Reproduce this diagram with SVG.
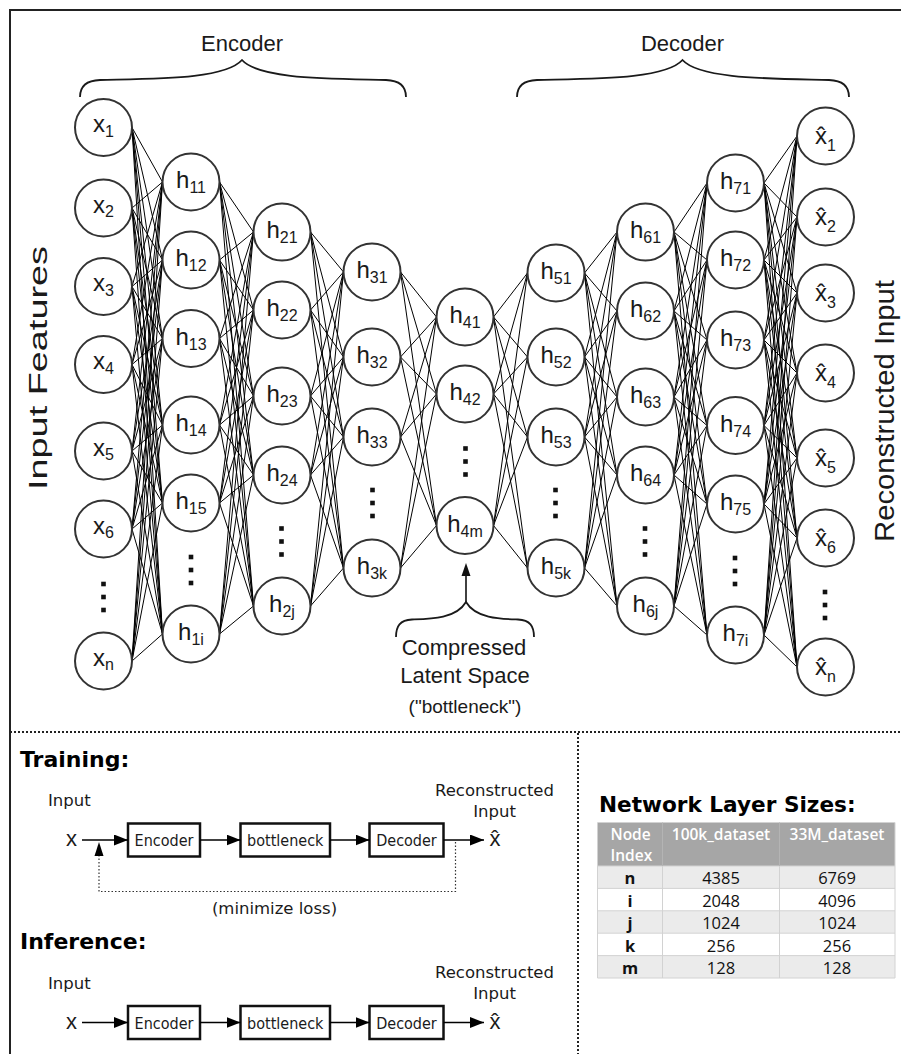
<svg xmlns="http://www.w3.org/2000/svg" width="901" height="1054" viewBox="0 0 901 1054">
<style>
.node circle{fill:#fff;stroke:#333;stroke-width:2}
.lbl{font-family:"Liberation Sans",Arial,sans-serif;font-size:24px;text-anchor:middle;fill:#1a1a1a}
.sub{font-size:16px}
.conn{stroke:#000;stroke-width:1;fill:none}
.brace{fill:none;stroke:#1a1a1a;stroke-width:1.8}
.ls{font-family:"Liberation Sans",Arial,sans-serif;fill:#1a1a1a}
.dv{font-family:"DejaVu Sans",Verdana,sans-serif;font-size:16.5px;fill:#1a1a1a}
.bold{font-family:"DejaVu Sans",Verdana,sans-serif;font-weight:bold;fill:#000}
.mid{text-anchor:middle}
.box rect{fill:#fff;stroke:#111;stroke-width:2.5}
.box text{font-family:"DejaVu Sans Condensed","DejaVu Sans",sans-serif;font-stretch:condensed;font-size:16px;text-anchor:middle;fill:#1a1a1a}
.arr{stroke:#000;stroke-width:1.5;fill:none}
.sep{stroke:#222;stroke-width:2;stroke-dasharray:2 2;fill:none}
.fb{stroke:#333;stroke-width:1.2;stroke-dasharray:1.5 2;fill:none}
.tb{font-family:"Open Sans","Noto Sans",sans-serif;font-size:16.5px;fill:#111}
.th{font-family:"Open Sans","Noto Sans",sans-serif;font-size:15.5px;font-weight:600;fill:#fff}
.grid{stroke:#d2d2d2;stroke-width:1;fill:none}
</style>
<defs>
<g id="vdots" fill="#111"><rect x="-2.3" y="-15.3" width="4.6" height="4.6"/><rect x="-2.3" y="-2.3" width="4.6" height="4.6"/><rect x="-2.3" y="10.7" width="4.6" height="4.6"/></g>
<marker id="ah" viewBox="0 0 14 11" refX="14" refY="5.5" markerWidth="14" markerHeight="11" markerUnits="userSpaceOnUse" orient="auto"><path d="M0,0 L14,5.5 L0,11 z" fill="#000"/></marker>
</defs>
<rect x="0" y="0" width="901" height="1054" fill="#fff"/>
<rect x="10" y="10" width="900" height="1060" fill="none" stroke="#222" stroke-width="2"/>

<g id="connectors">
<path class="conn" d="M132 127.5L162.5 182M132 127.5L162.5 260M132 127.5L162.5 338.5M132 127.5L162.5 425M132 127.5L162.5 503M132 127.5L162.5 634M132 208L162.5 182M132 208L162.5 260M132 208L162.5 338.5M132 208L162.5 425M132 208L162.5 503M132 208L162.5 634M132 286.5L162.5 182M132 286.5L162.5 260M132 286.5L162.5 338.5M132 286.5L162.5 425M132 286.5L162.5 503M132 286.5L162.5 634M132 364.5L162.5 182M132 364.5L162.5 260M132 364.5L162.5 338.5M132 364.5L162.5 425M132 364.5L162.5 503M132 364.5L162.5 634M132 451L162.5 182M132 451L162.5 260M132 451L162.5 338.5M132 451L162.5 425M132 451L162.5 503M132 451L162.5 634M132 529L162.5 182M132 529L162.5 260M132 529L162.5 338.5M132 529L162.5 425M132 529L162.5 503M132 529L162.5 634M132 661L162.5 182M132 661L162.5 260M132 661L162.5 338.5M132 661L162.5 425M132 661L162.5 503M132 661L162.5 634"/>
<path class="conn" d="M219.5 182L253.5 232M219.5 182L253.5 310M219.5 182L253.5 396M219.5 182L253.5 475M219.5 182L253.5 606M219.5 260L253.5 232M219.5 260L253.5 310M219.5 260L253.5 396M219.5 260L253.5 475M219.5 260L253.5 606M219.5 338.5L253.5 232M219.5 338.5L253.5 310M219.5 338.5L253.5 396M219.5 338.5L253.5 475M219.5 338.5L253.5 606M219.5 425L253.5 232M219.5 425L253.5 310M219.5 425L253.5 396M219.5 425L253.5 475M219.5 425L253.5 606M219.5 503L253.5 232M219.5 503L253.5 310M219.5 503L253.5 396M219.5 503L253.5 475M219.5 503L253.5 606M219.5 634L253.5 232M219.5 634L253.5 310M219.5 634L253.5 396M219.5 634L253.5 475M219.5 634L253.5 606"/>
<path class="conn" d="M310.5 232L343.5 272M310.5 232L343.5 357M310.5 232L343.5 437M310.5 232L343.5 568M310.5 310L343.5 272M310.5 310L343.5 357M310.5 310L343.5 437M310.5 310L343.5 568M310.5 396L343.5 272M310.5 396L343.5 357M310.5 396L343.5 437M310.5 396L343.5 568M310.5 475L343.5 272M310.5 475L343.5 357M310.5 475L343.5 437M310.5 475L343.5 568M310.5 606L343.5 272M310.5 606L343.5 357M310.5 606L343.5 437M310.5 606L343.5 568"/>
<path class="conn" d="M400.5 272L436.5 317M400.5 272L436.5 394M400.5 272L436.5 525.5M400.5 357L436.5 317M400.5 357L436.5 394M400.5 357L436.5 525.5M400.5 437L436.5 317M400.5 437L436.5 394M400.5 437L436.5 525.5M400.5 568L436.5 317M400.5 568L436.5 394M400.5 568L436.5 525.5"/>
<path class="conn" d="M493.5 317L527.5 273M493.5 317L527.5 357M493.5 317L527.5 437M493.5 317L527.5 568M493.5 394L527.5 273M493.5 394L527.5 357M493.5 394L527.5 437M493.5 394L527.5 568M493.5 525.5L527.5 273M493.5 525.5L527.5 357M493.5 525.5L527.5 437M493.5 525.5L527.5 568"/>
<path class="conn" d="M584.5 273L617 232M584.5 273L617 311M584.5 273L617 397M584.5 273L617 475M584.5 273L617 606M584.5 357L617 232M584.5 357L617 311M584.5 357L617 397M584.5 357L617 475M584.5 357L617 606M584.5 437L617 232M584.5 437L617 311M584.5 437L617 397M584.5 437L617 475M584.5 437L617 606M584.5 568L617 232M584.5 568L617 311M584.5 568L617 397M584.5 568L617 475M584.5 568L617 606"/>
<path class="conn" d="M674 232L707 183M674 232L707 260M674 232L707 340M674 232L707 425.5M674 232L707 504M674 232L707 635M674 311L707 183M674 311L707 260M674 311L707 340M674 311L707 425.5M674 311L707 504M674 311L707 635M674 397L707 183M674 397L707 260M674 397L707 340M674 397L707 425.5M674 397L707 504M674 397L707 635M674 475L707 183M674 475L707 260M674 475L707 340M674 475L707 425.5M674 475L707 504M674 475L707 635M674 606L707 183M674 606L707 260M674 606L707 340M674 606L707 425.5M674 606L707 504M674 606L707 635"/>
<path class="conn" d="M764 183L797 136M764 183L797 217M764 183L797 293M764 183L797 373M764 183L797 458M764 183L797 538M764 183L797 667M764 260L797 136M764 260L797 217M764 260L797 293M764 260L797 373M764 260L797 458M764 260L797 538M764 260L797 667M764 340L797 136M764 340L797 217M764 340L797 293M764 340L797 373M764 340L797 458M764 340L797 538M764 340L797 667M764 425.5L797 136M764 425.5L797 217M764 425.5L797 293M764 425.5L797 373M764 425.5L797 458M764 425.5L797 538M764 425.5L797 667M764 504L797 136M764 504L797 217M764 504L797 293M764 504L797 373M764 504L797 458M764 504L797 538M764 504L797 667M764 635L797 136M764 635L797 217M764 635L797 293M764 635L797 373M764 635L797 458M764 635L797 538M764 635L797 667"/>
</g>

<g id="layer-x">
<g id="x1" class="node"><circle cx="103.5" cy="127.5" r="28.5"/><text class="lbl" x="103.5" y="132">x<tspan class="sub" dy="4.5">1</tspan></text></g>
<g id="x2" class="node"><circle cx="103.5" cy="208" r="28.5"/><text class="lbl" x="103.5" y="212.5">x<tspan class="sub" dy="4.5">2</tspan></text></g>
<g id="x3" class="node"><circle cx="103.5" cy="286.5" r="28.5"/><text class="lbl" x="103.5" y="291">x<tspan class="sub" dy="4.5">3</tspan></text></g>
<g id="x4" class="node"><circle cx="103.5" cy="364.5" r="28.5"/><text class="lbl" x="103.5" y="369">x<tspan class="sub" dy="4.5">4</tspan></text></g>
<g id="x5" class="node"><circle cx="103.5" cy="451" r="28.5"/><text class="lbl" x="103.5" y="455.5">x<tspan class="sub" dy="4.5">5</tspan></text></g>
<g id="x6" class="node"><circle cx="103.5" cy="529" r="28.5"/><text class="lbl" x="103.5" y="533.5">x<tspan class="sub" dy="4.5">6</tspan></text></g>
<g id="xn" class="node"><circle cx="103.5" cy="661" r="28.5"/><text class="lbl" x="103.5" y="665.5">x<tspan class="sub" dy="4.5">n</tspan></text></g>
<use href="#vdots" x="103.5" y="597"/>
</g>

<g id="layer-h1">
<g id="h11" class="node"><circle cx="191" cy="182" r="28.5"/><text class="lbl" x="191" y="188">h<tspan class="sub" dy="5">11</tspan></text></g>
<g id="h12" class="node"><circle cx="191" cy="260" r="28.5"/><text class="lbl" x="191" y="266">h<tspan class="sub" dy="5">12</tspan></text></g>
<g id="h13" class="node"><circle cx="191" cy="338.5" r="28.5"/><text class="lbl" x="191" y="344.5">h<tspan class="sub" dy="5">13</tspan></text></g>
<g id="h14" class="node"><circle cx="191" cy="425" r="28.5"/><text class="lbl" x="191" y="431">h<tspan class="sub" dy="5">14</tspan></text></g>
<g id="h15" class="node"><circle cx="191" cy="503" r="28.5"/><text class="lbl" x="191" y="509">h<tspan class="sub" dy="5">15</tspan></text></g>
<g id="h1i" class="node"><circle cx="191" cy="634" r="28.5"/><text class="lbl" x="191" y="640">h<tspan class="sub" dy="5">1i</tspan></text></g>
<use href="#vdots" x="191" y="570"/>
</g>

<g id="layer-h2">
<g id="h21" class="node"><circle cx="282" cy="232" r="28.5"/><text class="lbl" x="282" y="238">h<tspan class="sub" dy="5">21</tspan></text></g>
<g id="h22" class="node"><circle cx="282" cy="310" r="28.5"/><text class="lbl" x="282" y="316">h<tspan class="sub" dy="5">22</tspan></text></g>
<g id="h23" class="node"><circle cx="282" cy="396" r="28.5"/><text class="lbl" x="282" y="402">h<tspan class="sub" dy="5">23</tspan></text></g>
<g id="h24" class="node"><circle cx="282" cy="475" r="28.5"/><text class="lbl" x="282" y="481">h<tspan class="sub" dy="5">24</tspan></text></g>
<g id="h2j" class="node"><circle cx="282" cy="606" r="28.5"/><text class="lbl" x="282" y="612">h<tspan class="sub" dy="5">2j</tspan></text></g>
<use href="#vdots" x="281.5" y="541.5"/>
</g>

<g id="layer-h3">
<g id="h31" class="node"><circle cx="372" cy="272" r="28.5"/><text class="lbl" x="372" y="278">h<tspan class="sub" dy="5">31</tspan></text></g>
<g id="h32" class="node"><circle cx="372" cy="357" r="28.5"/><text class="lbl" x="372" y="363">h<tspan class="sub" dy="5">32</tspan></text></g>
<g id="h33" class="node"><circle cx="372" cy="437" r="28.5"/><text class="lbl" x="372" y="443">h<tspan class="sub" dy="5">33</tspan></text></g>
<g id="h3k" class="node"><circle cx="372" cy="568" r="28.5"/><text class="lbl" x="372" y="574">h<tspan class="sub" dy="5">3k</tspan></text></g>
<use href="#vdots" x="372.5" y="503"/>
</g>

<g id="layer-h4">
<g id="h41" class="node"><circle cx="465" cy="317" r="28.5"/><text class="lbl" x="465" y="323">h<tspan class="sub" dy="5">41</tspan></text></g>
<g id="h42" class="node"><circle cx="465" cy="394" r="28.5"/><text class="lbl" x="465" y="400">h<tspan class="sub" dy="5">42</tspan></text></g>
<g id="h4m" class="node"><circle cx="465" cy="525.5" r="28.5"/><text class="lbl" x="465" y="531.5">h<tspan class="sub" dy="5">4m</tspan></text></g>
<use href="#vdots" x="465.5" y="461.5"/>
</g>

<g id="layer-h5">
<g id="h51" class="node"><circle cx="556" cy="273" r="28.5"/><text class="lbl" x="556" y="279">h<tspan class="sub" dy="5">51</tspan></text></g>
<g id="h52" class="node"><circle cx="556" cy="357" r="28.5"/><text class="lbl" x="556" y="363">h<tspan class="sub" dy="5">52</tspan></text></g>
<g id="h53" class="node"><circle cx="556" cy="437" r="28.5"/><text class="lbl" x="556" y="443">h<tspan class="sub" dy="5">53</tspan></text></g>
<g id="h5k" class="node"><circle cx="556" cy="568" r="28.5"/><text class="lbl" x="556" y="574">h<tspan class="sub" dy="5">5k</tspan></text></g>
<use href="#vdots" x="555.5" y="503"/>
</g>

<g id="layer-h6">
<g id="h61" class="node"><circle cx="645.5" cy="232" r="28.5"/><text class="lbl" x="645.5" y="238">h<tspan class="sub" dy="5">61</tspan></text></g>
<g id="h62" class="node"><circle cx="645.5" cy="311" r="28.5"/><text class="lbl" x="645.5" y="317">h<tspan class="sub" dy="5">62</tspan></text></g>
<g id="h63" class="node"><circle cx="645.5" cy="397" r="28.5"/><text class="lbl" x="645.5" y="403">h<tspan class="sub" dy="5">63</tspan></text></g>
<g id="h64" class="node"><circle cx="645.5" cy="475" r="28.5"/><text class="lbl" x="645.5" y="481">h<tspan class="sub" dy="5">64</tspan></text></g>
<g id="h6j" class="node"><circle cx="645.5" cy="606" r="28.5"/><text class="lbl" x="645.5" y="612">h<tspan class="sub" dy="5">6j</tspan></text></g>
<use href="#vdots" x="645" y="541.5"/>
</g>

<g id="layer-h7">
<g id="h71" class="node"><circle cx="735.5" cy="183" r="28.5"/><text class="lbl" x="735.5" y="189">h<tspan class="sub" dy="5">71</tspan></text></g>
<g id="h72" class="node"><circle cx="735.5" cy="260" r="28.5"/><text class="lbl" x="735.5" y="266">h<tspan class="sub" dy="5">72</tspan></text></g>
<g id="h73" class="node"><circle cx="735.5" cy="340" r="28.5"/><text class="lbl" x="735.5" y="346">h<tspan class="sub" dy="5">73</tspan></text></g>
<g id="h74" class="node"><circle cx="735.5" cy="425.5" r="28.5"/><text class="lbl" x="735.5" y="431.5">h<tspan class="sub" dy="5">74</tspan></text></g>
<g id="h75" class="node"><circle cx="735.5" cy="504" r="28.5"/><text class="lbl" x="735.5" y="510">h<tspan class="sub" dy="5">75</tspan></text></g>
<g id="h7i" class="node"><circle cx="735.5" cy="635" r="28.5"/><text class="lbl" x="735.5" y="641">h<tspan class="sub" dy="5">7i</tspan></text></g>
<use href="#vdots" x="735" y="571"/>
</g>

<g id="layer-xhat">
<g id="xh1" class="node"><circle cx="825.5" cy="136" r="28.5"/><text class="lbl" x="825.5" y="143.5">x̂<tspan class="sub" dy="7">1</tspan></text></g>
<g id="xh2" class="node"><circle cx="825.5" cy="217" r="28.5"/><text class="lbl" x="825.5" y="224.5">x̂<tspan class="sub" dy="7">2</tspan></text></g>
<g id="xh3" class="node"><circle cx="825.5" cy="293" r="28.5"/><text class="lbl" x="825.5" y="300.5">x̂<tspan class="sub" dy="7">3</tspan></text></g>
<g id="xh4" class="node"><circle cx="825.5" cy="373" r="28.5"/><text class="lbl" x="825.5" y="380.5">x̂<tspan class="sub" dy="7">4</tspan></text></g>
<g id="xh5" class="node"><circle cx="825.5" cy="458" r="28.5"/><text class="lbl" x="825.5" y="465.5">x̂<tspan class="sub" dy="7">5</tspan></text></g>
<g id="xh6" class="node"><circle cx="825.5" cy="538" r="28.5"/><text class="lbl" x="825.5" y="545.5">x̂<tspan class="sub" dy="7">6</tspan></text></g>
<g id="xhn" class="node"><circle cx="825.5" cy="667" r="28.5"/><text class="lbl" x="825.5" y="674.5">x̂<tspan class="sub" dy="7">n</tspan></text></g>
<use href="#vdots" x="825" y="605"/>
</g>

<g id="annotations">
<text class="ls mid" x="242" y="51" font-size="22">Encoder</text>
<path class="brace" d="M80,97 C80,86 86,80.5 100,80 C160,78.5 225,79 242,60 C259,79 326,78.5 386,80 C400,80.5 406,86 406,97"/>
<text class="ls mid" x="682.5" y="51" font-size="22">Decoder</text>
<path class="brace" d="M517,97 C517,86 523,80.5 537,80 C597,78.5 665.5,79 682.5,60 C699.5,79 769,78.5 829,80 C843,80.5 849,86 849,97"/>
<text class="ls mid" font-size="26" textLength="244" lengthAdjust="spacingAndGlyphs" transform="translate(47,368) rotate(-90)">Input Features</text>
<text class="ls mid" font-size="28" textLength="262" lengthAdjust="spacingAndGlyphs" transform="translate(893.5,411) rotate(-90)">Reconstructed Input</text>
<line x1="466" y1="602" x2="466" y2="572" stroke="#111" stroke-width="1.6"/>
<polygon points="466,563 461.5,576 470.5,576" fill="#111"/>
<path class="brace" d="M396,637 C396,626 400,620 412,619.5 C430,619 456,619 466,602 C476,619 502,619 518,619.5 C530,620 534,626 534,637"/>
<text class="ls mid" x="464" y="654.5" font-size="22">Compressed</text>
<text class="ls mid" x="465" y="682.5" font-size="22">Latent Space</text>
<text class="ls mid" x="465" y="713" font-size="19">("bottleneck")</text>
</g>

<line class="sep" x1="10" y1="732" x2="901" y2="732"/>
<line class="sep" x1="578" y1="733" x2="578" y2="1054"/>

<g id="training">
<text class="bold" x="20" y="767" font-size="22">Training:</text>
<text class="dv" x="48" y="806">Input</text>
<text class="dv mid" x="494.5" y="795.5">Reconstructed</text>
<text class="dv mid" x="494.5" y="816.5">Input</text>
<text class="ls mid" x="71.5" y="846" font-size="22">x</text>
<text class="ls mid" x="495" y="846" font-size="22">x̂</text>
<g id="t-encoder" class="box"><rect x="128" y="823.5" width="72" height="33"/><text x="164" y="846">Encoder</text></g>
<g id="t-bottleneck" class="box"><rect x="240.5" y="823.5" width="89.5" height="33"/><text x="285.25" y="846">bottleneck</text></g>
<g id="t-decoder" class="box"><rect x="369.5" y="823.5" width="74" height="33"/><text x="406.5" y="846">Decoder</text></g>
<g id="t-arrows">
<line class="arr" x1="82" y1="840" x2="128" y2="840" marker-end="url(#ah)"/>
<line class="arr" x1="200" y1="840" x2="240.5" y2="840" marker-end="url(#ah)"/>
<line class="arr" x1="330" y1="840" x2="369.5" y2="840" marker-end="url(#ah)"/>
<line class="arr" x1="443.5" y1="840" x2="484" y2="840" marker-end="url(#ah)"/>
<path class="fb" d="M455.5,842 V891.5 H99 V856"/>
<polygon points="99,842 94.5,856 103.5,856" fill="#000"/>
</g>
<text class="dv mid" x="274.5" y="913.5" font-size="17">(minimize loss)</text>
</g>

<g id="inference">
<text class="bold" x="20" y="949" font-size="22">Inference:</text>
<text class="dv" x="48" y="988.5">Input</text>
<text class="dv mid" x="494.5" y="978">Reconstructed</text>
<text class="dv mid" x="494.5" y="999">Input</text>
<text class="ls mid" x="71.5" y="1028.5" font-size="22">x</text>
<text class="ls mid" x="495" y="1028.5" font-size="22">x̂</text>
<g id="i-encoder" class="box"><rect x="128" y="1006" width="72" height="33"/><text x="164" y="1028.5">Encoder</text></g>
<g id="i-bottleneck" class="box"><rect x="240.5" y="1006" width="89.5" height="33"/><text x="285.25" y="1028.5">bottleneck</text></g>
<g id="i-decoder" class="box"><rect x="369.5" y="1006" width="74" height="33"/><text x="406.5" y="1028.5">Decoder</text></g>
<g id="i-arrows">
<line class="arr" x1="82" y1="1022.5" x2="128" y2="1022.5" marker-end="url(#ah)"/>
<line class="arr" x1="200" y1="1022.5" x2="240.5" y2="1022.5" marker-end="url(#ah)"/>
<line class="arr" x1="330" y1="1022.5" x2="369.5" y2="1022.5" marker-end="url(#ah)"/>
<line class="arr" x1="443.5" y1="1022.5" x2="484" y2="1022.5" marker-end="url(#ah)"/>
</g>
</g>

<g id="table">
<text class="bold" x="599" y="811.5" font-size="21.6">Network Layer Sizes:</text>
<rect x="597.5" y="822.5" width="297.5" height="43.5" fill="#a6a6a6"/>
<rect x="597.5" y="866" width="297.5" height="22.4" fill="#ebebeb"/>
<rect x="597.5" y="888.4" width="297.5" height="22.4" fill="#fff"/>
<rect x="597.5" y="910.8" width="297.5" height="22.4" fill="#ebebeb"/>
<rect x="597.5" y="933.2" width="297.5" height="22.4" fill="#fff"/>
<rect x="597.5" y="955.6" width="297.5" height="22.4" fill="#ebebeb"/>
<path class="grid" d="M597.5 866H895M597.5 888.4H895M597.5 910.8H895M597.5 933.2H895M597.5 955.6H895M597.5 978H895M597.5 822.5V978M895 822.5V978M662.5 866V978M779.5 866V978"/>
<path d="M662.5 822.5V866M779.5 822.5V866" stroke="#b4b4b4" stroke-width="1"/>
<text class="th" x="610.5" y="840">Node</text>
<text class="th" x="610.5" y="861">Index</text>
<text class="th mid" x="721" y="840">100k_dataset</text>
<text class="th mid" x="837" y="840">33M_dataset</text>
<g class="tb mid">
<text x="630" y="884" font-weight="bold">n</text><text x="721" y="884">4385</text><text x="837" y="884">6769</text>
<text x="630" y="906.5" font-weight="bold">i</text><text x="721" y="906.5">2048</text><text x="837" y="906.5">4096</text>
<text x="630" y="929" font-weight="bold">j</text><text x="721" y="929">1024</text><text x="837" y="929">1024</text>
<text x="630" y="951.5" font-weight="bold">k</text><text x="721" y="951.5">256</text><text x="837" y="951.5">256</text>
<text x="630" y="974" font-weight="bold">m</text><text x="721" y="974">128</text><text x="837" y="974">128</text>
</g>
</g>
</svg>
